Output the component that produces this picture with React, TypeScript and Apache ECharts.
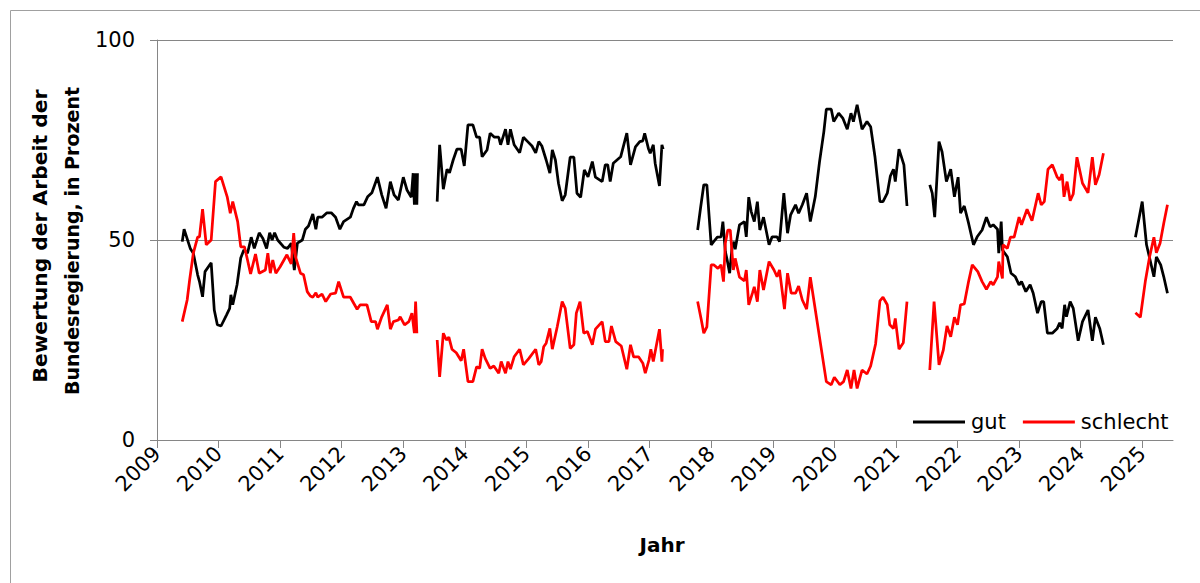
import React, { useEffect, useRef } from "react";
import * as echarts from "echarts";

// Decimal year, percent
const gut1 = [
  [2009.41, 49.6], [2009.44, 52.7], [2009.54, 47.9], [2009.59, 46.7], [2009.66, 41.3], [2009.69, 39.6],
  [2009.74, 35.8], [2009.78, 42.1], [2009.88, 44.3], [2009.93, 32.5], [2009.98, 28.8], [2010.04, 28.5],
  [2010.13, 31.3], [2010.18, 32.9], [2010.2, 36.3], [2010.23, 33.8], [2010.3, 38.8], [2010.36, 45.5],
  [2010.41, 47.5], [2010.47, 46.7], [2010.53, 50.7], [2010.58, 47.9], [2010.66, 51.8], [2010.72, 50.4],
  [2010.78, 47.9], [2010.83, 51.8], [2010.87, 50], [2010.91, 51.8], [2010.96, 50], [2011.06, 48.2],
  [2011.12, 47.9], [2011.18, 49.2], [2011.23, 42.5], [2011.28, 49.2], [2011.36, 50], [2011.41, 52.7],
  [2011.46, 53.5], [2011.53, 56.5], [2011.58, 52.7], [2011.61, 55.7], [2011.68, 55.7], [2011.76, 56.8],
  [2011.83, 56.8], [2011.9, 55.7], [2011.97, 52.7], [2012.03, 54.6], [2012.14, 55.7], [2012.19, 57.9],
  [2012.24, 59.6], [2012.27, 58.8], [2012.36, 58.8], [2012.42, 60.8], [2012.49, 61.8], [2012.58, 65.7],
  [2012.65, 61.3], [2012.72, 57.9], [2012.79, 64.6], [2012.85, 61.3], [2012.92, 60], [2013.0, 65.7],
  [2013.06, 62.5], [2013.13, 60.7], [2013.16, 66.7], [2013.18, 58.8], [2013.2, 66.7], [2013.22, 58.8],
  [2013.23, 66.7],
];
const gut2 = [
  [2013.55, 59.6], [2013.59, 73.8], [2013.65, 62.7], [2013.71, 67.7], [2013.75, 66.8], [2013.81, 70],
  [2013.87, 72.7], [2013.94, 72.7], [2013.99, 68.5], [2014.05, 78.8], [2014.13, 78.8], [2014.19, 75.7],
  [2014.24, 75.7], [2014.28, 70.8], [2014.36, 72.5], [2014.41, 76.7], [2014.48, 75.7], [2014.55, 75.7],
  [2014.58, 73.8], [2014.66, 77.7], [2014.7, 73.8], [2014.74, 77.7], [2014.8, 73.8], [2014.89, 71.8],
  [2014.95, 75.7], [2015.02, 74.6], [2015.09, 73.5], [2015.15, 71.8], [2015.2, 74.6], [2015.25, 73.5],
  [2015.32, 70], [2015.38, 66.7], [2015.42, 72.5], [2015.47, 70], [2015.52, 64.2], [2015.58, 59.8],
  [2015.63, 61.3], [2015.71, 70.7], [2015.77, 70.7], [2015.82, 61.7], [2015.88, 60.7], [2015.94, 67.5],
  [2016.0, 65.8], [2016.07, 69.6], [2016.12, 65.7], [2016.23, 64.6], [2016.28, 68.8], [2016.32, 68.8],
  [2016.36, 64.6], [2016.41, 69.2], [2016.53, 70.8], [2016.63, 76.7], [2016.69, 68.8], [2016.77, 73.3],
  [2016.84, 74.6], [2016.89, 74.8], [2016.92, 76.7], [2016.98, 72.9], [2017.01, 71.7], [2017.06, 73.8],
  [2017.09, 69.2], [2017.16, 63.5], [2017.2, 73.8], [2017.22, 72.7],
];
const gut3 = [
  [2017.78, 52.5], [2017.83, 58.3], [2017.88, 63.8], [2017.93, 63.8], [2018.0, 48.8], [2018.04, 49.6],
  [2018.1, 50.7], [2018.16, 50.8], [2018.19, 54.6], [2018.23, 47.1], [2018.26, 45], [2018.3, 41.7],
  [2018.34, 48.3], [2018.37, 49.6], [2018.39, 47.7], [2018.46, 53.8], [2018.54, 54.6], [2018.57, 50.8],
  [2018.61, 60.7], [2018.65, 57.1], [2018.7, 54.6], [2018.75, 59.6], [2018.79, 52.5], [2018.85, 55.7],
  [2018.94, 48.8], [2018.99, 50.8], [2019.07, 50.8], [2019.11, 49.6], [2019.18, 61.7], [2019.24, 51.7],
  [2019.29, 56.3], [2019.37, 58.8], [2019.42, 56.7], [2019.48, 58.8], [2019.55, 61.7], [2019.61, 54.6],
  [2019.69, 60.8], [2019.76, 69.6], [2019.83, 77.1], [2019.87, 82.7], [2019.95, 82.7], [2019.99, 79.6],
  [2020.07, 81.7], [2020.14, 80.4], [2020.21, 77.7], [2020.27, 81.7], [2020.31, 79.6], [2020.37, 83.8],
  [2020.45, 77.7], [2020.53, 79.6], [2020.59, 78.3], [2020.66, 70.8], [2020.74, 59.6], [2020.79, 59.6],
  [2020.86, 61.7], [2020.91, 66], [2020.96, 67.7], [2020.99, 64.6], [2021.05, 72.7], [2021.13, 68.8],
  [2021.18, 58.5],
];
const gut4 = [
  [2021.55, 63.8], [2021.59, 61.7], [2021.63, 55.7], [2021.7, 74.6], [2021.75, 72], [2021.82, 64.6],
  [2021.89, 67.7], [2021.95, 60.8], [2022.01, 65.7], [2022.05, 56.7], [2022.11, 58.5], [2022.18, 54.2],
  [2022.26, 48.8], [2022.32, 50.8], [2022.4, 52.5], [2022.47, 55.7], [2022.53, 53.3], [2022.58, 53.8],
  [2022.65, 52.7], [2022.67, 46.7], [2022.71, 54.6], [2022.73, 47.5], [2022.81, 45.8], [2022.87, 41.7],
  [2022.94, 40.8], [2023.0, 38.8], [2023.04, 39.6], [2023.11, 37.1], [2023.18, 38.8], [2023.23, 36.7],
  [2023.3, 31.7], [2023.36, 34.6], [2023.4, 34.6], [2023.46, 26.7], [2023.54, 26.7], [2023.62, 27.9],
  [2023.66, 29.3], [2023.7, 27.9], [2023.74, 33.8], [2023.77, 30.8], [2023.83, 34.6], [2023.88, 32.9],
  [2023.96, 24.8], [2024.03, 29.6], [2024.12, 32.5], [2024.19, 24.8], [2024.24, 30.7], [2024.31, 27.9],
  [2024.37, 23.8],
];
const gut5 = [
  [2024.89, 50.7], [2025.0, 59.6], [2025.07, 48.8], [2025.14, 44.2], [2025.19, 40.8], [2025.23, 45.8],
  [2025.3, 43.8], [2025.35, 40.8], [2025.41, 36.7],
];

const schlecht1 = [
  [2009.41, 29.6], [2009.49, 35], [2009.53, 40], [2009.59, 46.7], [2009.66, 50.7], [2009.69, 50.8],
  [2009.74, 57.7], [2009.8, 48.8], [2009.88, 50], [2009.95, 64.6], [2010.04, 65.8], [2010.14, 60.8],
  [2010.19, 56.7], [2010.23, 59.6], [2010.31, 54.6], [2010.36, 48.3], [2010.42, 48.3], [2010.47, 45],
  [2010.52, 41.5], [2010.6, 46.5], [2010.66, 41.7], [2010.76, 42.5], [2010.8, 46.7], [2010.84, 41.7],
  [2010.88, 45], [2010.93, 41.7], [2011.0, 43.3], [2011.11, 46.3], [2011.18, 44], [2011.22, 51.7],
  [2011.25, 45.8], [2011.33, 41.7], [2011.38, 41.3], [2011.44, 37.1], [2011.49, 36], [2011.53, 35.7],
  [2011.58, 36.8], [2011.61, 35.7], [2011.68, 36.5], [2011.74, 34.6], [2011.82, 36.5], [2011.9, 36.7],
  [2011.95, 39.6], [2012.03, 35.7], [2012.14, 35.7], [2012.25, 32.7], [2012.3, 33.8], [2012.41, 33.8],
  [2012.48, 29.6], [2012.55, 29.6], [2012.58, 27.7], [2012.65, 30.8], [2012.74, 33.8], [2012.79, 27.7],
  [2012.84, 29.6], [2012.92, 30], [2012.95, 30.8], [2013.02, 28.8], [2013.09, 29.6], [2013.14, 31.7],
  [2013.18, 26.7], [2013.2, 34.6], [2013.22, 26.7],
];
const schlecht2 = [
  [2013.55, 25], [2013.59, 15.8], [2013.65, 26.7], [2013.7, 25], [2013.74, 25.7], [2013.79, 22.7],
  [2013.86, 21.8], [2013.94, 19.8], [2013.98, 22.7], [2014.05, 14.6], [2014.13, 14.6], [2014.19, 18.3],
  [2014.24, 17.9], [2014.28, 22.7], [2014.33, 20.4], [2014.41, 17.9], [2014.47, 18.5], [2014.55, 16.7],
  [2014.59, 19.6], [2014.66, 16.7], [2014.7, 19.6], [2014.74, 17.7], [2014.8, 20.8], [2014.89, 22.7],
  [2014.95, 18.8], [2015.04, 20.4], [2015.15, 22.7], [2015.2, 18.8], [2015.24, 19.6], [2015.28, 23.3],
  [2015.32, 24.2], [2015.38, 27.9], [2015.42, 22.7], [2015.5, 28.3], [2015.58, 34.6], [2015.63, 32.9],
  [2015.71, 22.9], [2015.77, 23.8], [2015.81, 31.7], [2015.87, 34.6], [2015.93, 26.7], [2015.99, 27.1],
  [2016.07, 23.8], [2016.12, 27.7], [2016.23, 29.6], [2016.28, 24.6], [2016.34, 24.6], [2016.38, 28.5],
  [2016.45, 24.6], [2016.54, 23.5], [2016.63, 17.7], [2016.69, 23.8], [2016.74, 20.8], [2016.82, 20.8],
  [2016.89, 19.2], [2016.93, 16.7], [2016.99, 20], [2017.02, 22.7], [2017.06, 19.6], [2017.16, 27.7],
  [2017.2, 19.6], [2017.21, 22.7],
];
const schlecht3 = [
  [2017.78, 34.6], [2017.84, 30], [2017.88, 26.7], [2017.93, 28.3], [2018.0, 43.8], [2018.04, 43.8],
  [2018.11, 42.9], [2018.16, 43.8], [2018.2, 39.6], [2018.23, 49.2], [2018.27, 52.5], [2018.31, 52.5],
  [2018.36, 42.5], [2018.39, 45.4], [2018.46, 40.7], [2018.54, 39.8], [2018.57, 42.5], [2018.61, 33.8],
  [2018.67, 36.7], [2018.7, 38.3], [2018.75, 34.6], [2018.79, 42.5], [2018.85, 37.5], [2018.94, 44.6],
  [2019.02, 42.5], [2019.07, 40.8], [2019.11, 42.5], [2019.19, 32.7], [2019.24, 41.7], [2019.3, 36.7],
  [2019.37, 36.7], [2019.42, 38.5], [2019.48, 35], [2019.55, 32.7], [2019.61, 40.7], [2019.87, 14.6],
  [2019.95, 13.8], [2020.0, 15.7], [2020.09, 13.8], [2020.15, 14.6], [2020.21, 17.5], [2020.27, 12.9],
  [2020.32, 17.5], [2020.37, 12.9], [2020.45, 17.5], [2020.53, 16.5], [2020.59, 18.5], [2020.67, 24],
  [2020.74, 34.8], [2020.79, 35.7], [2020.86, 33.8], [2020.9, 28.8], [2020.96, 27.9], [2020.99, 30.4],
  [2021.05, 22.7], [2021.12, 24.3], [2021.18, 34.6],
];
const schlecht4 = [
  [2021.55, 17.5], [2021.62, 34.6], [2021.7, 18.8], [2021.77, 22.5], [2021.83, 28.5], [2021.89, 25.8],
  [2021.95, 30.7], [2022.0, 28.8], [2022.05, 33.8], [2022.11, 34], [2022.18, 39.6], [2022.24, 43.8],
  [2022.33, 42.1], [2022.4, 39.6], [2022.47, 37.7], [2022.54, 39.6], [2022.58, 38.8], [2022.65, 40.8],
  [2022.67, 44.6], [2022.73, 40.4], [2022.74, 48.8], [2022.81, 47.9], [2022.86, 50.7], [2022.92, 50.7],
  [2023.0, 55.7], [2023.04, 53.8], [2023.13, 57.7], [2023.21, 54.8], [2023.31, 61.7], [2023.36, 58.8],
  [2023.41, 59.6], [2023.47, 67.7], [2023.54, 68.8], [2023.62, 65.7], [2023.66, 65], [2023.7, 66.5],
  [2023.73, 60.8], [2023.78, 64.6], [2023.83, 59.8], [2023.88, 61.5], [2023.94, 70.7], [2024.03, 64.2],
  [2024.12, 61.8], [2024.19, 70.7], [2024.24, 63.8], [2024.3, 66.3], [2024.37, 71.7],
];
const schlecht5 = [
  [2024.89, 31.8], [2024.97, 30.7], [2025.05, 39.6], [2025.12, 45.8], [2025.19, 50.7], [2025.23, 46.8],
  [2025.29, 49.2], [2025.35, 54.2], [2025.41, 58.8],
];

const yearTicks = [2009, 2010, 2011, 2012, 2013, 2014, 2015, 2016, 2017, 2018, 2019, 2020, 2021, 2022, 2023, 2024, 2025];
const yTicks = [0, 50, 100];
const seriesNames = ["gut", "schlecht"];
const yTitleLines = ["Bewertung der Arbeit der", "Bundesregierung, in Prozent"];
const xTitle = "Jahr";

const FONT = "DejaVu Sans";
const AXIS_GRAY = "#868686";

export default function App() {
  const ref = useRef<HTMLDivElement>(null);
  useEffect(() => {
    if (!ref.current) return;
    const chart = echarts.init(ref.current, null, { renderer: "svg" });
    const mk = (name: string, data: number[][], color: string) => ({
      type: "line",
      name,
      data,
      showSymbol: false,
      symbol: "none",
      lineStyle: { color, width: 2.75 },
      itemStyle: { color },
      emphasis: { disabled: true },
    });
    const series = [
      ...[gut1, gut2, gut3, gut4, gut5].map((d) => mk(seriesNames[0], d, "#000000")),
      ...[schlecht1, schlecht2, schlecht3, schlecht4, schlecht5].map((d) => mk(seriesNames[1], d, "#ff0000")),
    ];
    chart.setOption({
      animation: false,
      backgroundColor: "#ffffff",
      grid: { left: 157, right: 27, top: 40, bottom: 143, containLabel: false },
      xAxis: {
        type: "value",
        min: 2009,
        max: 2025.5,
        interval: 1,
        axisLine: { show: true, onZero: false, lineStyle: { color: AXIS_GRAY, width: 1 } },
        axisTick: { show: true, length: 8, customValues: yearTicks, lineStyle: { color: AXIS_GRAY } },
        axisLabel: {
          customValues: yearTicks,
          rotate: 45,
          fontSize: 21,
          fontFamily: FONT,
          color: "#000",
          margin: 10,
          formatter: (v: number) => String(v),
        },
        splitLine: { show: false },
      },
      yAxis: {
        type: "value",
        min: 0,
        max: 100,
        interval: 50,
        axisLine: { show: true, lineStyle: { color: AXIS_GRAY, width: 1 } },
        axisTick: { show: true, length: 7, lineStyle: { color: AXIS_GRAY } },
        axisLabel: {
          customValues: yTicks,
          fontSize: 21,
          fontFamily: FONT,
          color: "#000",
          margin: 22,
        },
        splitLine: { show: true, lineStyle: { color: AXIS_GRAY, width: 1 } },
      },
      legend: {
        data: seriesNames,
        left: 913,
        top: 410,
        icon: "rect",
        itemWidth: 52,
        itemHeight: 3,
        itemGap: 17,
        padding: 0,
        textStyle: { fontSize: 21, fontFamily: FONT, color: "#000", padding: [0, 0, 0, 1], lineHeight: 24 },
      },
      graphic: [
        {
          type: "rect",
          shape: { x: 10.5, y: 10.5, width: 1300, height: 700 },
          style: { fill: "none", stroke: "#a0a0a0", lineWidth: 1 },
          silent: true,
          z: -10,
        },
        {
          type: "text",
          x: 40,
          y: 236,
          rotation: Math.PI / 2,
          style: {
            text: yTitleLines[0],
            font: `bold 20.3px "${FONT}"`,
            fill: "#000",
            align: "center",
            verticalAlign: "middle",
          },
        },
        {
          type: "text",
          x: 72,
          y: 241,
          rotation: Math.PI / 2,
          style: {
            text: yTitleLines[1],
            font: `bold 19px "${FONT}"`,
            fill: "#000",
            align: "center",
            verticalAlign: "middle",
          },
        },
        {
          type: "text",
          x: 662,
          y: 545,
          style: {
            text: xTitle,
            font: `bold 20px "${FONT}"`,
            fill: "#000",
            align: "center",
            verticalAlign: "middle",
          },
        },
      ],
      series,
    });
    return () => chart.dispose();
  }, []);
  return (
    <div
      ref={ref}
      style={{ position: "absolute", left: 0, top: 0, width: 1200, height: 583 }}
    />
  );
}
